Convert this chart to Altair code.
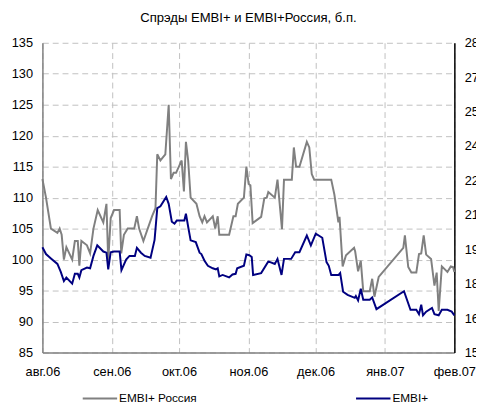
import altair as alt
import pandas as pd

# days since 2006-08-01 and spreads, EMBI+ Russia (left axis, bp)
rus_days = [0, 1.6, 3.8, 6.7, 7.7, 8.6, 9.6, 10.7, 13.3, 14.5, 15.8, 16.5, 17.4, 19.9, 21.3, 22.8, 24.7,
            27.2, 28.6, 29.4, 30.5, 32, 34.5, 35.2, 36.4, 38.1, 41, 42.2, 43.2, 45.1, 49, 50.5, 51.3,
            52.7, 54.9, 56.4, 57.4, 58.6, 59.7, 62.2, 63.2, 64.1, 65.1, 66.2, 68.8, 70.2, 71.4, 72.4,
            73.5, 76.1, 77.2, 78.3, 79, 83.4, 85.3, 86.3, 87.3, 90, 91.1, 92.1, 92.9, 93.9, 97.7,
            99.1, 100.2, 100.9, 103.8, 105, 107, 107.9, 111.4, 112.3, 113.3, 114.8, 118.1, 119.2,
            120.3, 121.4, 129, 130.4, 132.2, 132.7, 134.1, 135.6, 139.2, 139.7, 141, 142.2, 143.3,
            146.2, 147.3, 148.3, 150.2, 161.2, 161.9, 163.4, 164.8, 167, 168.2, 169.2, 170.3, 171.4,
            173.6, 175.1, 176.1, 177, 178.4, 180.9, 182.4, 183.4, 184]
rus_vals = [113, 110, 105, 104.3, 105, 104, 100, 102, 100, 103, 103, 99, 103, 102.3, 101, 105, 108,
            106, 109, 99.8, 106.7, 108, 108, 101, 104, 105, 105, 107, 105, 103, 107, 108.3, 117,
            116, 117, 125, 113, 114, 114, 116, 111, 119, 116, 110, 109, 107, 106, 107,
            106, 107, 105, 107, 104, 104, 107, 107, 109, 110, 115, 112.2, 112, 105.9, 106.9,
            109.9, 110, 110.9, 110, 112.9, 104.9, 112.9, 112.9, 118.1, 115, 115, 119, 118.1,
            113.8, 112.9, 112.9, 110.5, 106, 106.9, 98.9, 100.7, 101.9, 101.3, 98.1, 99.8, 94.9,
            94.9, 96.9, 94, 97.2, 101.9, 103.9, 98.8, 97.9, 97.9, 100.9, 101, 103.9, 100.8,
            100.1, 95.8, 97.9, 91.7, 98.9, 98, 98.9, 98.8, 98]

# EMBI+ (right axis, bp)
embi_days = [0, 1.6, 3.8, 6.7, 8.2, 9.6, 10.7, 13.3, 14.5, 15.8, 16.5, 17.4, 19.9, 21.3, 22.8, 24.5,
             27.2, 28.6, 29.4, 30.5, 32, 34.5, 35.3, 37.4, 38.9, 41.3, 42.2, 44, 45.7, 48.3, 50.1,
             51.3, 52.7, 55.3, 56.4, 57.8, 59, 60, 63.4, 64.1, 65.1, 66.2, 68.5, 70.2, 71, 72.4,
             73.9, 76.1, 77.5, 78.3, 79, 80.5, 83.4, 84.9, 86.3, 87, 90, 91.1, 92.4, 93.5, 94.1,
             97.7, 100.9, 103.8, 105, 106.8, 107.9, 111.1, 112.9, 114.8, 118.1, 119.9, 122.1, 125,
             126.9, 127.9, 129, 132.3, 133, 134.3, 136.3, 139.5, 140, 141, 142.2, 143.3, 146.2,
             147.3, 149.2, 161.5, 164.4, 167, 168.2, 169.2, 170, 171.4, 174, 175.1, 177, 178.4,
             180.9, 182.8, 184]
embi_vals = [195.9, 192.9, 191.0, 188.6, 185.1, 181.1, 182.7, 180.0, 184.3, 184.3, 182.7, 185.9,
             187.0, 186.7, 192.1, 196.7, 194.0, 193.5, 186.2, 193.7, 194.0, 194.0, 185.9, 190.5,
             192.1, 192.1, 195.6, 193.5, 192.1, 191.3, 199.1, 212.9, 213.7, 217.8, 214.8, 207.0,
             206.2, 207.5, 207.5, 210.5, 204.8, 198.9, 198.1, 193.5, 192.9, 190.0, 187.8, 186.7,
             186.2, 186.7, 183.2, 183.8, 182.7, 184.0, 184.3, 186.7, 187.8, 192.7, 192.4, 191.6,
             183.8, 184.6, 189.7, 188.6, 190.8, 183.8, 190.8, 190.8, 193.7, 193.7, 201.0, 196.7,
             201.8, 200.0, 189.4, 187.8, 183.8, 183.8, 184.6, 176.5, 175.1, 173.8, 174.6, 172.7,
             177.8, 173.0, 173.0, 174.0, 168.9, 176.7, 168.6, 168.6, 166.7, 170.8, 166.2, 167.8,
             169.4, 166.7, 166.2, 168.6, 168.6, 167.8, 166.2]

series_names = ["EMBI+ Россия", "EMBI+"]
series_colors = ["#808080", "#000080"]
left_ticks = [85, 90, 95, 100, 105, 110, 115, 120, 125, 130, 135]
right_ticks = [150, 165, 180, 195, 210, 225, 240, 255, 270, 285]
month_ru = ["янв", "фев", "мар", "апр", "май", "июн", "июл", "авг", "сен", "окт", "ноя", "дек"]

start = pd.Timestamp("2006-08-01")
rus = pd.DataFrame({"date": start + pd.to_timedelta(rus_days, unit="D"),
                    "value": rus_vals, "series": series_names[0]})
embi = pd.DataFrame({"date": start + pd.to_timedelta(embi_days, unit="D"),
                     "value": embi_vals, "series": series_names[1]})

month_vals = [alt.DateTime(year=2006, month=m, date=1) for m in range(8, 13)] + \
             [alt.DateTime(year=2007, month=m, date=1) for m in (1, 2)]

label_expr = "[" + ",".join("'%s'" % m for m in month_ru) + "][month(datum.value)] + '.' + timeFormat(datum.value, '%y')"

x_enc = alt.X("date:T",
              scale=alt.Scale(domain=[alt.DateTime(year=2006, month=8, date=1),
                                      alt.DateTime(year=2007, month=2, date=1)], nice=False),
              axis=alt.Axis(values=month_vals, labelExpr=label_expr, title=None, ticks=False,
                            grid=True, gridColor="#c0c0c0", gridDash=[6, 4], gridWidth=1,
                            domainColor="#808080", domainWidth=1.5, labelPadding=13,
                            labelFontSize=13, labelColor="#000", labelFont="Liberation Sans",
                            labelAngle=0, labelOverlap=False, labelFlush=False, labelBound=False))

color_enc = alt.Color("series:N",
                      scale=alt.Scale(domain=series_names, range=series_colors),
                      legend=alt.Legend(title=None, orient="none", legendX=40, legendY=343,
                                        direction="horizontal", columns=2, columnPadding=157,
                                        symbolType="stroke", symbolSize=1225, symbolStrokeWidth=2,
                                        labelOffset=1, labelFontSize=12, labelFont="Liberation Sans",
                                        labelColor="#000"))

left = alt.Chart(rus).mark_line(strokeWidth=2).encode(
    x=x_enc,
    y=alt.Y("value:Q", scale=alt.Scale(domain=[85, 135], nice=False, zero=False),
            axis=alt.Axis(values=left_ticks, title=None, ticks=False, grid=True,
                          gridColor="#c0c0c0", gridDash=[6, 4], gridWidth=1,
                          domainColor="#808080", domainWidth=1.5, labelPadding=10,
                          labelFontSize=13, labelColor="#000", labelFont="Liberation Sans")),
    color=color_enc,
)

right = alt.Chart(embi).mark_line(strokeWidth=2).encode(
    x=x_enc,
    y=alt.Y("value:Q", scale=alt.Scale(domain=[150, 285], nice=False, zero=False),
            axis=alt.Axis(values=right_ticks, orient="right", title=None, ticks=False, grid=False,
                          domainColor="#000", domainWidth=1.5, labelPadding=10,
                          labelFontSize=13, labelColor="#000", labelFont="Liberation Sans")),
    color=color_enc,
)

chart = alt.layer(left, right).resolve_scale(y="independent").properties(
    width=419, height=315,
    autosize=alt.AutoSizeParams(type="none"),
    padding={"left": 35, "top": 32, "right": 22, "bottom": 48},
    title=alt.TitleParams("Спрэды EMBI+ и EMBI+Россия, б.п.", fontSize=13.3, fontWeight="normal",
                          font="Liberation Sans", color="#000", anchor="middle",
                          baseline="alphabetic", offset=2),
).configure_view(stroke=None)

chart.save("out.html", embed_options={"renderer": "svg", "actions": False})
